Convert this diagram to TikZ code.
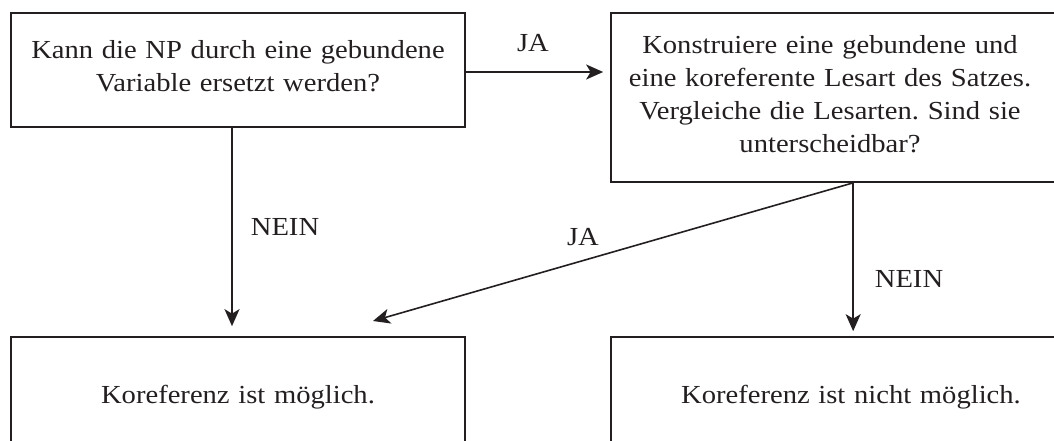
\documentclass[tikz,border=0pt]{standalone}
\usepackage{fontspec}
\setmainfont{Liberation Serif}[FakeStretch=1.1]
\usetikzlibrary{arrows.meta}
\definecolor{ink}{HTML}{231F20}
\frenchspacing
\begin{document}
\begin{tikzpicture}[x=1pt,y=-1pt,
  box/.style={draw=ink, line width=1.7pt, inner sep=0pt, rectangle},
  txt/.style={font=\fontsize{26}{33}\selectfont, text=ink, inner sep=0pt,
              text width=440pt, align=center, anchor=base},
  lbl/.style={font=\fontsize{26}{33}\selectfont, text=ink, inner sep=0pt, anchor=base},
  arr/.style={draw=ink, line width=1.6pt, -{Stealth[length=17pt,width=15pt,inset=4.5pt]}}]
\useasboundingbox (0,0) rectangle (1054,441);
\clip (0,0) rectangle (1054,441);

% question boxes
\node[box, minimum width=454pt, minimum height=114pt] (q1) at (238,70) {};
\node[box, minimum width=469pt, minimum height=169pt] (q2) at (845.5,97.5) {};
% result boxes (running past the lower and right edges)
\node[box, minimum width=454pt, minimum height=133pt] (k1) at (238,403.5) {};
\node[box, minimum width=469pt, minimum height=133pt] (k2) at (845.5,403.5) {};

% box texts
\node[txt] (q1t) at (238,59) {Kann die NP durch eine gebundene\\Variable ersetzt werden?};
\node[txt] (q2t) at (830,54) {Konstruiere eine gebundene und\\eine koreferente Lesart des Satzes.\\Vergleiche die Lesarten. Sind sie\\unterscheidbar?};
\node[txt] (k1t) at (238,403) {Koreferenz ist möglich.};
\node[txt] (k2t) at (851,403) {Koreferenz ist nicht möglich.};

% branching point under the second question
\coordinate (fork) at ([xshift=243pt]q2.south west);
\coordinate (jaend) at (373,321);

% connectors
\draw[arr, shorten >=10pt] ([xshift=-6pt]q1.south) -- ([xshift=-6pt]k1.north);
\draw[arr, shorten >=7pt] ([yshift=-2pt]q1.east) -- ([yshift=-2pt]q1.east -| q2.west);
\draw[arr] (fork) -- (jaend);
\draw[arr, shorten >=5pt] (fork) -- (fork |- k2.north);

% branch labels
\node[lbl] (nein1) at (285,235) {NEIN};
\node[lbl] (ja1) at (533,52) {JA};
\node[lbl] (ja2) at (583,245) {JA};
\node[lbl] (nein2) at (909,287) {NEIN};
\end{tikzpicture}
\end{document}
